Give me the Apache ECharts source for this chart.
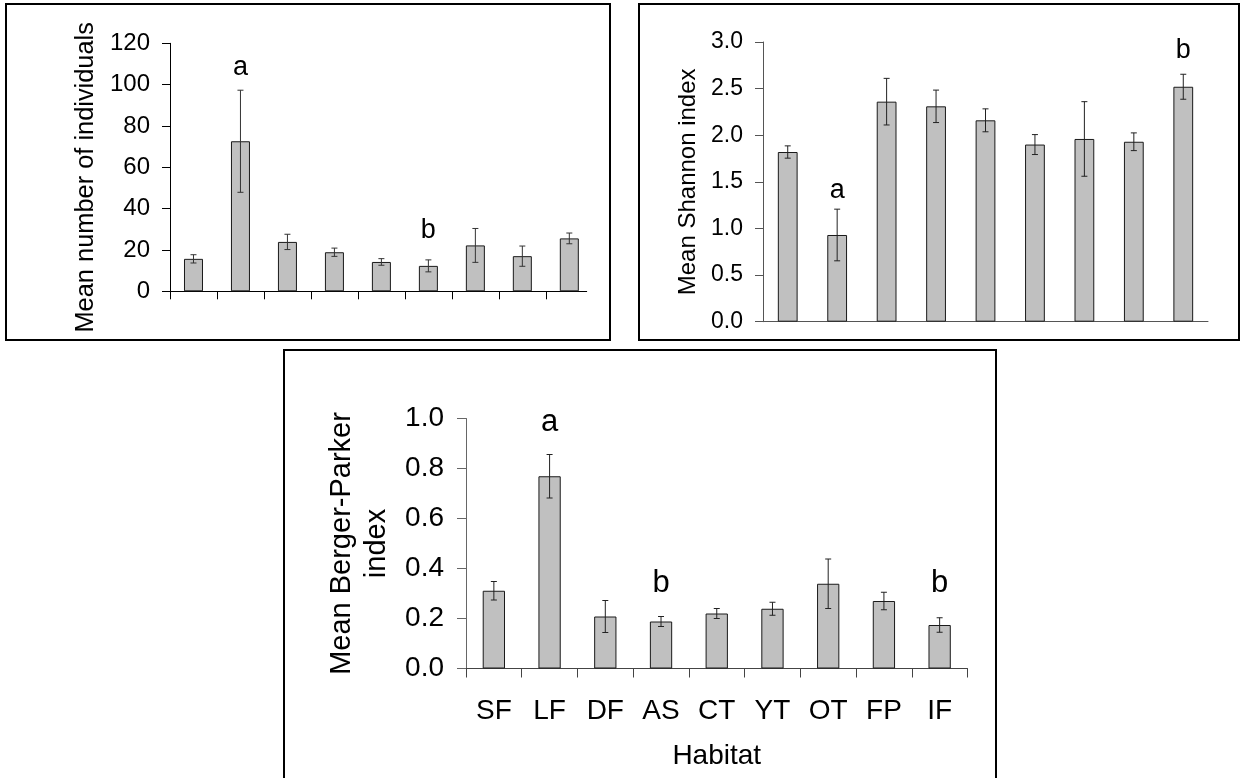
<!DOCTYPE html>
<html><head><meta charset="utf-8">
<script src="https://cdn.jsdelivr.net/npm/echarts@6/dist/echarts.min.js"></script>
<style>
html,body{margin:0;padding:0;background:#fff;width:1245px;height:778px;overflow:hidden;position:relative}
.box{position:absolute;border:2px solid #000;box-sizing:border-box;background:#fff}
</style></head><body>
<div id="p1" class="box" style="left:5px;top:3px;width:606px;height:338px"></div>
<div id="p2" class="box" style="left:638px;top:3px;width:602px;height:338px"></div>
<div id="p3" class="box" style="left:283px;top:349px;width:714px;height:445px"></div>
<script>
// ---- data ----
const habitats = ['SF','LF','DF','AS','CT','YT','OT','FP','IF'];

const individualsMean = [15.7, 72.6, 23.9, 18.9, 14.2, 12.3, 22.2, 17.0, 25.6];
const individualsSE   = [2.0, 24.7, 3.7, 2.0, 1.6, 2.9, 8.2, 4.9, 2.6];
const individualsLetters = ['', 'a', '', '', '', 'b', '', '', ''];
const individualsLetterY = [null, 108.4, null, null, null, 29.6, null, null, null];
const individualsTicks = [0, 20, 40, 60, 80, 100, 120];

const shannonMean = [1.82, 0.93, 2.36, 2.31, 2.16, 1.90, 1.96, 1.93, 2.52];
const shannonSE   = [0.066, 0.277, 0.25, 0.174, 0.123, 0.107, 0.40, 0.095, 0.134];
const shannonLetters = ['', 'a', '', '', '', '', '', '', 'b'];
const shannonLetterY = [null, 1.41, null, null, null, null, null, null, 2.91];
const shannonTicks = [0.0, 0.5, 1.0, 1.5, 2.0, 2.5, 3.0];

const bergerMean = [0.311, 0.769, 0.208, 0.188, 0.220, 0.239, 0.339, 0.270, 0.174];
const bergerSE   = [0.037, 0.087, 0.064, 0.020, 0.020, 0.026, 0.099, 0.035, 0.029];
const bergerLetters = ['', 'a', '', 'b', '', '', '', '', 'b'];
const bergerLetterY = [null, 0.985, null, 0.34, null, null, null, null, 0.34];
const bergerTicks = [0.0, 0.2, 0.4, 0.6, 0.8, 1.0];

// ---- helpers ----
const ARIAL = '"Liberation Sans", Arial, Helvetica, sans-serif';

function errorSeries(data, color) {
  return {
    type: 'custom', silent: true, z: 5,
    encode: {x: 0, y: 1},
    data: data,
    renderItem: function (params, api) {
      const x = api.value(0), m = api.value(1), e = api.value(2);
      const t = api.coord([x, m + e]);
      const b = api.coord([x, m - e]);
      const hw = 3;
      const st = {stroke: color, lineWidth: 1, fill: null};
      return {type: 'group', children: [
        {type: 'line', shape: {x1: t[0], y1: t[1], x2: b[0], y2: b[1]}, style: st},
        {type: 'line', shape: {x1: t[0] - hw, y1: t[1], x2: t[0] + hw, y2: t[1]}, style: st},
        {type: 'line', shape: {x1: b[0] - hw, y1: b[1], x2: b[0] + hw, y2: b[1]}, style: st}
      ]};
    }
  };
}
function letterSeries(xs, ys, letters, size) {
  const d = [];
  letters.forEach((l, i) => { if (l) d.push([xs[i], ys[i], l]); });
  return {
    type: 'custom', silent: true, z: 6,
    encode: {x: 0, y: 1},
    data: d,
    renderItem: function (params, api) {
      const p = api.coord([api.value(0), api.value(1)]);
      return {type: 'text', x: p[0], y: p[1],
        style: {text: d[params.dataIndex][2], fill: '#000', font: size + 'px ' + ARIAL,
                textAlign: 'center', textVerticalAlign: 'middle'}};
    }
  };
}

// ---- panel 1 ----
const c1 = echarts.init(document.getElementById('p1'), null, {renderer: 'canvas'});
const x1 = habitats.map((_, i) => i + 0.5);
c1.setOption({
  animation: false,
  grid: {left: 163, top: 38.3, width: 416.7, height: 248},
  xAxis: {type: 'value', min: 0, max: 8.87,
    axisLine: {show: true, lineStyle: {color: '#000', width: 1}},
    axisTick: {show: true, length: 8, lineStyle: {color: '#000'}, customValues: habitats.map((_, i) => i)},
    axisLabel: {show: false}, splitLine: {show: false}},
  yAxis: {type: 'value', min: individualsTicks[0], max: individualsTicks[individualsTicks.length - 1], interval: 20,
    name: 'Mean number of individuals', nameLocation: 'middle', nameGap: 72,
    nameTextStyle: {fontSize: 25.4, fontFamily: ARIAL, color: '#000', padding: [0, 20, 0, 0]},
    axisLine: {show: true, lineStyle: {color: '#000', width: 1}},
    axisTick: {show: true, length: 8, lineStyle: {color: '#000'}},
    axisLabel: {margin: 20, fontSize: 24, fontFamily: ARIAL, color: '#000'},
    splitLine: {show: false}},
  series: [
    {type: 'bar', barWidth: 19, data: x1.map((x, i) => [x, individualsMean[i]]),
     itemStyle: {color: '#c0c0c0', borderColor: '#1a1a1a', borderWidth: 1}},
    errorSeries(x1.map((x, i) => [x, individualsMean[i], individualsSE[i]]), '#333'),
    letterSeries(x1, individualsLetterY, individualsLetters, 27)
  ]
});

// ---- panel 2 ----
const c2 = echarts.init(document.getElementById('p2'), null, {renderer: 'canvas'});
const x2 = habitats.map((_, i) => i);
c2.setOption({
  animation: false,
  grid: {left: 123, top: 37, width: 445, height: 279.7},
  xAxis: {type: 'category', data: habitats,
    axisLine: {show: true, lineStyle: {color: '#555', width: 1}},
    axisTick: {show: false}, axisLabel: {show: false}},
  yAxis: {type: 'value', min: shannonTicks[0], max: shannonTicks[shannonTicks.length - 1], interval: 0.5,
    name: 'Mean Shannon index', nameLocation: 'middle', nameGap: 61,
    nameTextStyle: {fontSize: 24, fontFamily: ARIAL, color: '#000'},
    axisLine: {show: true, lineStyle: {color: '#555', width: 1}},
    axisTick: {show: true, length: 8, lineStyle: {color: '#555'}},
    axisLabel: {margin: 20, fontSize: 23, fontFamily: ARIAL, color: '#000', formatter: v => v.toFixed(1)},
    splitLine: {show: false}},
  series: [
    {type: 'bar', barWidth: '40%', data: shannonMean,
     itemStyle: {color: '#c0c0c0', borderColor: '#1a1a1a', borderWidth: 1}},
    errorSeries(x2.map(i => [i, shannonMean[i], shannonSE[i]]), '#222'),
    letterSeries(x2, shannonLetterY, shannonLetters, 27)
  ]
});

// ---- panel 3 ----
const c3 = echarts.init(document.getElementById('p3'), null, {renderer: 'canvas'});
c3.setOption({
  animation: false,
  grid: {left: 181, top: 67.5, width: 501.5, height: 250},
  xAxis: {type: 'category', data: habitats,
    name: 'Habitat', nameLocation: 'middle', nameGap: 74,
    nameTextStyle: {fontSize: 28, fontFamily: ARIAL, color: '#000'},
    axisLine: {show: true, lineStyle: {color: '#444', width: 1}},
    axisTick: {show: true, length: 9, interval: 0, lineStyle: {color: '#444'}},
    axisLabel: {margin: 29, fontSize: 28, fontFamily: ARIAL, color: '#000', interval: 0}},
  yAxis: {type: 'value', min: bergerTicks[0], max: bergerTicks[bergerTicks.length - 1], interval: 0.2,
    name: 'Mean Berger-Parker\nindex', nameLocation: 'middle', nameGap: 70,
    nameTextStyle: {fontSize: 29, lineHeight: 35, fontFamily: ARIAL, color: '#000'},
    axisLine: {show: true, lineStyle: {color: '#666', width: 1}},
    axisTick: {show: true, length: 9, lineStyle: {color: '#666'}},
    axisLabel: {margin: 22, fontSize: 28, fontFamily: ARIAL, color: '#000', formatter: v => v.toFixed(1)},
    splitLine: {show: false}},
  series: [
    {type: 'bar', barWidth: '40%', data: bergerMean,
     itemStyle: {color: '#c0c0c0', borderColor: '#1a1a1a', borderWidth: 1}},
    errorSeries(x2.map(i => [i, bergerMean[i], bergerSE[i]]), '#222'),
    letterSeries(x2, bergerLetterY, bergerLetters, 31)
  ]
});
</script>
</body></html>
